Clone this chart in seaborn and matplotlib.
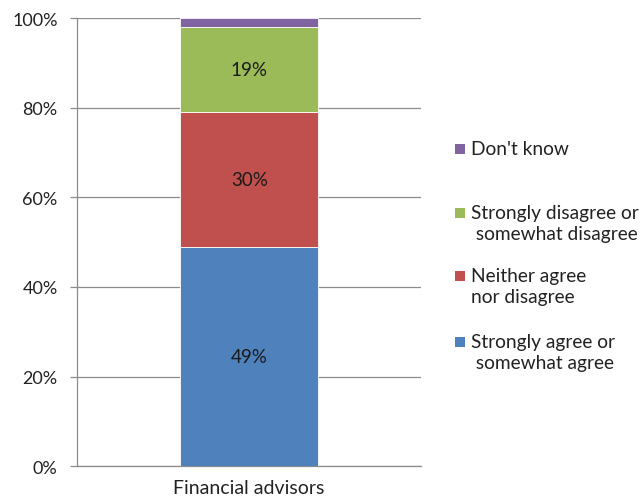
import matplotlib
matplotlib.use("Agg")
import matplotlib.pyplot as plt
import seaborn as sns
import pandas as pd
from matplotlib.patches import Rectangle

# Survey responses for one group, bottom to top of the stack
category = "Financial advisors"
responses = ["Strongly agree or\n somewhat agree", "Neither agree\nnor disagree",
             "Strongly disagree or\n somewhat disagree", "Don't know"]
values = [49, 30, 19, 2]
colors = ["#4F81BD", "#C0504D", "#9BBB59", "#8064A2"]
y_ticks = [0, 20, 40, 60, 80, 100]

sns.set_theme(style="white")
plt.rcParams["font.family"] = ["Lato", "DejaVu Sans"]

fig = plt.figure(figsize=(6.43, 5.02), dpi=100)
ax = fig.add_axes([0.12, 0.0697, 0.535, 0.8915])

bottom = 0
for resp, val, col in zip(responses, values, colors):
    df = pd.DataFrame({"group": [category], "pct": [val]})
    sns.barplot(data=df, x="group", y="pct", color=col, bottom=bottom,
                width=0.4, ax=ax, edgecolor="white", linewidth=0.6,
                saturation=1, zorder=3)
    if val >= 5:
        ax.text(0, bottom + val / 2, f"{val}%", ha="center", va="center",
                fontsize=13.5, color="#1a1a1a", zorder=4)
    bottom += val

ax.set_xlim(-0.5, 0.5)
ax.set_ylim(0, 100)
ax.set_yticks(y_ticks)
ax.set_yticklabels([f"{t}%" for t in y_ticks], fontsize=13, color="#222222")
ax.yaxis.grid(True, color="#8c8c8c", linewidth=0.9, zorder=0)
ax.set_xlabel("")
ax.set_ylabel("")
ax.set_xticks([0])
ax.set_xticklabels([category], fontsize=14, color="#222222")
ax.tick_params(axis="x", length=0, pad=9)
ax.set_xticks([-0.5, 0.5], minor=True)
ax.tick_params(axis="x", which="minor", length=5, color="#8c8c8c", width=0.9)
ax.tick_params(axis="y", length=5, color="#8c8c8c", width=0.9, left=True, pad=9)

for side in ["top", "right"]:
    ax.spines[side].set_visible(False)
for side in ["left", "bottom"]:
    ax.spines[side].set_color("#8c8c8c")
    ax.spines[side].set_linewidth(0.9)

# Legend, listed top to bottom in reverse stack order
H, W = 502, 643
legend_rows = [(150, 3), (214, 2), (277, 1), (343, 0)]
for y_px, idx in legend_rows:
    fig.add_artist(Rectangle(((455) / W, 1 - (y_px + 5) / H), 10 / W, 10 / H,
                             transform=fig.transFigure, facecolor=colors[idx],
                             edgecolor="none"))
    fig.text(471 / W, 1 - (y_px - 9) / H, responses[idx], ha="left", va="top",
             fontsize=13.8, color="#222222", linespacing=1.3)

fig.savefig("out.png", dpi=100)
